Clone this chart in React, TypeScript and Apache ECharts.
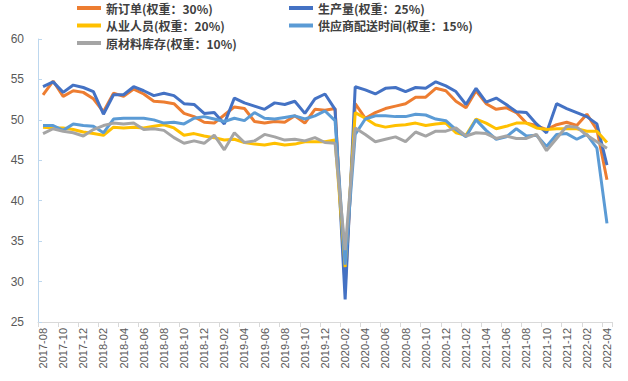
import React, { useEffect, useRef } from "react";
import * as echarts from "echarts";

const months: string[] = [
  "2017-08","2017-09","2017-10","2017-11","2017-12",
  "2018-01","2018-02","2018-03","2018-04","2018-05","2018-06","2018-07","2018-08","2018-09","2018-10","2018-11","2018-12",
  "2019-01","2019-02","2019-03","2019-04","2019-05","2019-06","2019-07","2019-08","2019-09","2019-10","2019-11","2019-12",
  "2020-01","2020-02","2020-03","2020-04","2020-05","2020-06","2020-07","2020-08","2020-09","2020-10","2020-11","2020-12",
  "2021-01","2021-02","2021-03","2021-04","2021-05","2021-06","2021-07","2021-08","2021-09","2021-10","2021-11","2021-12",
  "2022-01","2022-02","2022-03","2022-04",
];

const newOrders: number[] = [
  53.1, 54.8, 52.9, 53.6, 53.4,
  52.6, 51.0, 53.3, 52.9, 53.8, 53.2, 52.3, 52.2, 52.0, 50.8, 50.4, 49.7,
  49.6, 50.6, 51.6, 51.4, 49.8, 49.6, 49.8, 49.7, 50.5, 49.6, 51.3, 51.2,
  51.4, 29.3, 52.0, 50.2, 50.9, 51.4, 51.7, 52.0, 52.8, 52.8, 53.9, 53.6,
  52.3, 51.5, 53.6, 52.0, 51.3, 51.5, 50.9, 49.6, 49.3, 48.8, 49.4, 49.7,
  49.3, 50.7, 48.8, 42.6,
];

const production: number[] = [
  54.1, 54.7, 53.4, 54.3, 54.0,
  53.5, 50.7, 53.1, 53.1, 54.1, 53.6, 53.0, 53.3, 53.0, 52.0, 51.9, 50.8,
  50.9, 49.5, 52.7, 52.1, 51.7, 51.3, 52.1, 51.9, 52.3, 50.8, 52.6, 53.2,
  51.3, 27.8, 54.1, 53.7, 53.2, 53.9, 54.0, 53.5, 54.0, 53.9, 54.7, 54.2,
  53.5, 51.9, 53.9, 52.2, 52.7, 51.9, 51.0, 50.9, 49.5, 48.4, 52.0, 51.4,
  50.9, 50.4, 49.5, 44.4,
];

const employment: number[] = [
  49.1, 49.0, 49.0, 48.8, 48.5,
  48.3, 48.1, 49.1, 49.0, 49.1, 49.0, 49.2, 49.4, 49.0, 48.1, 48.3, 48.0,
  47.8, 47.5, 47.6, 47.2, 47.0, 46.9, 47.1, 46.9, 47.0, 47.3, 47.3, 47.3,
  47.5, 31.8, 50.9, 50.2, 49.4, 49.1, 49.3, 49.4, 49.6, 49.3, 49.5, 49.6,
  48.4, 48.1, 50.1, 49.6, 48.9, 49.2, 49.6, 49.6, 49.0, 48.8, 48.9, 48.9,
  48.9, 48.6, 48.6, 47.2,
];

const supplierDelivery: number[] = [
  49.3, 49.3, 48.7, 49.5, 49.3,
  49.2, 48.4, 50.1, 50.2, 50.2, 50.2, 50.0, 49.6, 49.7, 49.5, 50.2, 50.4,
  50.1, 49.8, 50.2, 49.9, 50.9, 50.2, 50.1, 50.3, 50.5, 50.1, 50.5, 51.1,
  49.9, 32.1, 48.2, 50.1, 50.5, 50.5, 50.4, 50.4, 50.7, 50.6, 50.1, 49.9,
  48.8, 47.9, 50.0, 48.7, 47.6, 47.9, 48.9, 48.0, 48.1, 46.7, 48.2, 48.3,
  47.6, 48.2, 46.5, 37.2,
];

const rawInventory: number[] = [
  48.3, 48.9, 48.6, 48.4, 48.0,
  48.8, 49.3, 49.6, 49.5, 49.6, 48.8, 48.9, 48.7, 47.8, 47.1, 47.4, 47.1,
  48.1, 46.3, 48.4, 47.2, 47.4, 48.2, 47.9, 47.5, 47.6, 47.4, 47.8, 47.2,
  47.1, 33.9, 49.0, 48.2, 47.3, 47.6, 47.9, 47.3, 48.5, 48.0, 48.6, 48.6,
  49.0, 48.0, 48.4, 48.3, 47.7, 48.0, 47.7, 47.7, 48.2, 46.2, 47.7, 49.2,
  49.1, 48.1, 47.3, 46.5,
];

const seriesNames: string[] = [
  "新订单(权重：30%)",
  "生产量(权重：25%)",
  "从业人员(权重：20%)",
  "供应商配送时间(权重：15%)",
  "原材料库存(权重：10%)",
];
const seriesColors: string[] = ["#ED7D31", "#4472C4", "#FFC000", "#5B9BD5", "#A5A5A5"];
const seriesData: number[][] = [newOrders, production, employment, supplierDelivery, rawInventory];

export default function App() {
  const ref = useRef<HTMLDivElement>(null);
  useEffect(() => {
    if (!ref.current) return;
    const chart = echarts.init(ref.current, null, { renderer: "svg" });
    const legendText = {
      fontSize: 12,
      fontWeight: "bold" as const,
      color: "#404040",
      fontFamily: "Noto Sans CJK SC",
      lineHeight: 13,
      padding: 0,
    };
    const legendBase = {
      orient: "vertical" as const,
      itemGap: 4.5,
      itemWidth: 24,
      itemHeight: 4,
      icon: "rect",
      padding: 0,
      textStyle: legendText,
    };
    chart.setOption({
      animation: false,
      backgroundColor: "#ffffff",
      legend: [
        {
          ...legendBase,
          left: 77,
          top: 1.5,
          data: [seriesNames[0], seriesNames[2], seriesNames[4]],
        },
        {
          ...legendBase,
          left: 289,
          top: 1.5,
          data: [seriesNames[1], seriesNames[3]],
        },
      ],
      grid: { left: 38, right: 16, top: 39, bottom: 59, containLabel: false },
      xAxis: {
        type: "category",
        data: months,
        boundaryGap: true,
        axisLine: { show: true, lineStyle: { color: "#D9D9D9", width: 1 } },
        axisTick: { show: true, interval: 1, length: 5, lineStyle: { color: "#D9D9D9" } },
        axisLabel: {
          interval: 1,
          rotate: 90,
          fontSize: 11,
          color: "#595959",
          fontFamily: "Liberation Sans",
          margin: 6,
        },
        splitLine: { show: false },
      },
      yAxis: {
        type: "value",
        min: 25,
        max: 60,
        interval: 5,
        axisLine: { show: true, lineStyle: { color: "#BDD7EE", width: 1 } },
        axisTick: { show: true, inside: true, length: 4, lineStyle: { color: "#BDD7EE" } },
        axisLabel: { fontSize: 12, color: "#595959", fontFamily: "Liberation Sans", margin: 14 },
        splitLine: { show: false },
      },
      series: seriesNames.map((name, i) => ({
        name,
        type: "line",
        data: seriesData[i],
        showSymbol: false,
        symbol: "none",
        lineStyle: { color: seriesColors[i], width: 3 },
        itemStyle: { color: seriesColors[i] },
        z: 2 + i,
      })),
    });
    return () => chart.dispose();
  }, []);
  return (
    <div
      ref={ref}
      style={{ position: "fixed", left: 0, top: 0, width: 628, height: 381 }}
    />
  );
}
